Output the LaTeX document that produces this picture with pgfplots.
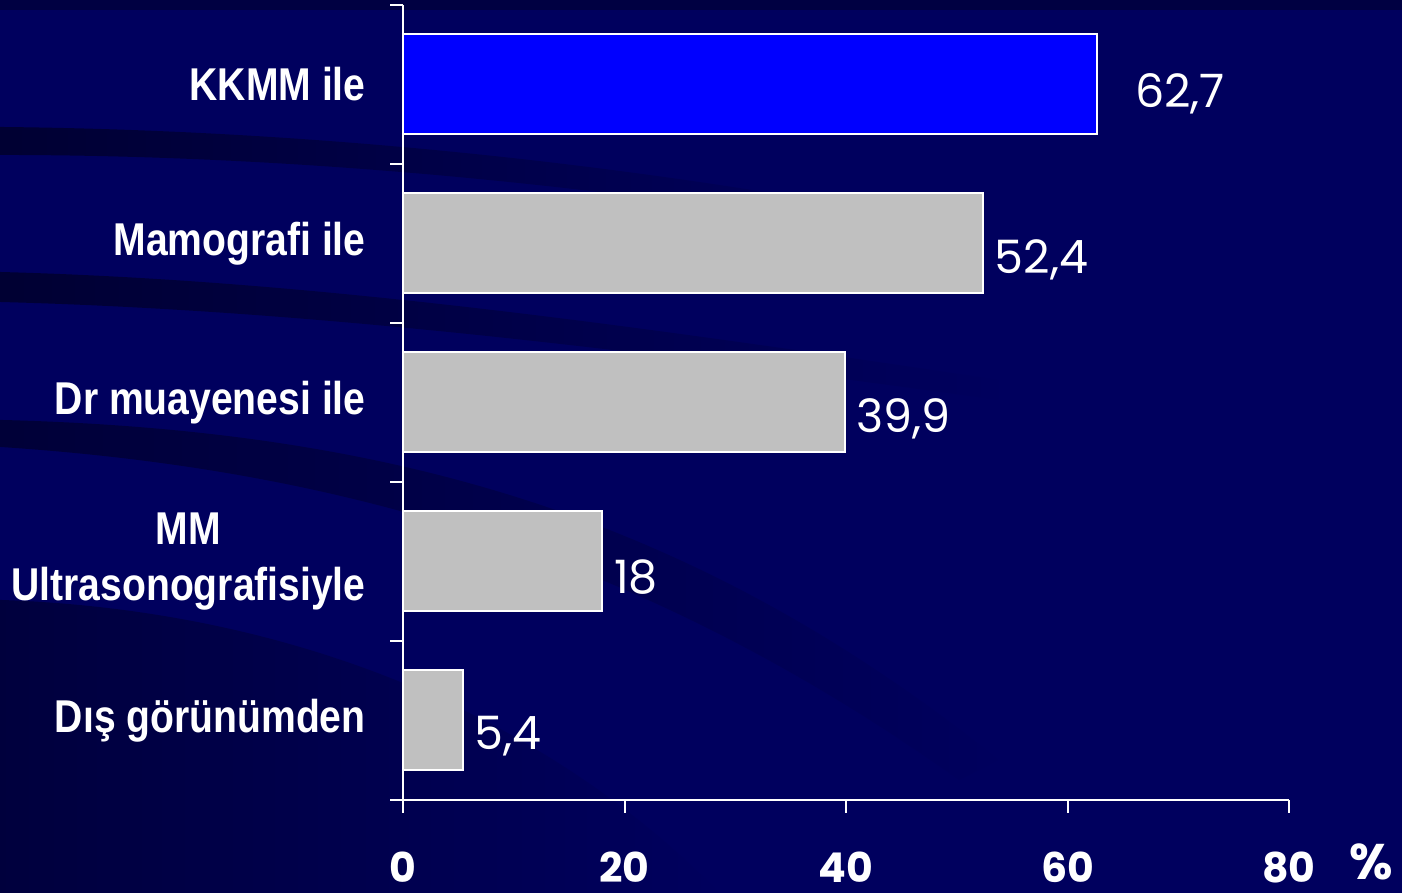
\documentclass[border=0pt]{standalone}
\usepackage{fontspec}
\usepackage{pgfplots}
\pgfplotsset{compat=1.18}
\usetikzlibrary{fadings}
\setmainfont{Liberation Sans}
\newfontfamily\catfont[FakeStretch=0.85]{Liberation Sans}
\newfontfamily\valfont{Poppins}
\definecolor{bgblue}{RGB}{0,0,94}
\definecolor{darkblue}{RGB}{0,0,40}
\definecolor{barsilver}{RGB}{192,192,192}
\definecolor{barblue}{RGB}{0,0,255}
\begin{document}
\begin{tikzpicture}
\fill[bgblue] (0,0) rectangle (701pt,446.5pt);
\path[use as bounding box] (0,0) rectangle (701pt,446.5pt);
\begin{scope}[x=0.5pt,y=-0.5pt,shift={(0pt,446.5pt)}]
  \fill[darkblue,opacity=0.5] (0,0) rectangle (1402,10);
  \fill[darkblue,opacity=0.8,path fading=east] (0,127) .. controls (300,130) and (600,160) .. (900,215) -- (900,235) .. controls (600,185) and (300,155) .. (0,155) -- cycle;
  \fill[darkblue,opacity=0.8,path fading=east] (0,272) .. controls (300,280) and (600,320) .. (1000,380) -- (1000,400) .. controls (600,345) and (300,310) .. (0,302) -- cycle;
  \fill[darkblue,opacity=0.7,path fading=east] (0,420) .. controls (400,430) and (700,520) .. (1000,760) -- (960,780) .. controls (650,560) and (350,470) .. (0,447) -- cycle;
  \fill[darkblue,opacity=0.6,path fading=east] (0,600) .. controls (300,610) and (550,720) .. (720,893) -- (0,893) -- cycle;
\end{scope}
\begin{axis}[
  at={(201.5pt,46.5pt)}, anchor=south west,
  scale only axis, width=443pt, height=397.5pt,
  clip=false,
  xmin=0, xmax=80, ymin=0.5, ymax=5.5,
  axis lines*=left,
  axis line style={white, line width=1pt},
  tick align=outside,
  major tick length=6.5pt,
  every tick/.style={white, line width=1pt},
  xtick={0,20,40,60,80},
  xticklabel style={font=\valfont\bfseries\fontsize{20.5}{22}\selectfont, text=white, inner sep=0pt, yshift=-19.5pt},
  /pgf/number format/assume math mode=true,
  /pgf/number format/use comma,
  /pgf/number format/fixed,
  ytick={0.5,1.5,2.5,3.5,4.5,5.5},
  yticklabels={},
  extra y ticks={1,2,3,4,5},
  extra y tick labels={Dış görünümden,{MM\\Ultrasonografisiyle},Dr muayenesi ile,Mamografi ile,KKMM ile},
  extra y tick style={major tick length=0pt,
    yticklabel style={font=\catfont\bfseries\fontsize{23}{28}\selectfont, text=white, align=center, anchor=east, inner sep=0pt, xshift=-18.5pt}},
  nodes near coords,
  point meta=x,
  every node near coord/.append style={font=\valfont\fontsize{23}{28}\selectfont, text=white, anchor=west},
]
\addplot[xbar, bar shift=0pt, bar width=50pt, fill=barsilver, draw=white, line width=1pt,
  every node near coord/.append style={xshift=2pt, yshift=-8pt}]
  coordinates {(5.4,1) (18,2) (39.9,3) (52.4,4)};
\addplot[xbar, bar shift=0pt, bar width=50pt, fill=barblue, draw=white, line width=1pt,
  every node near coord/.append style={xshift=15pt, yshift=-4.5pt}]
  coordinates {(62.7,5)};
\node[font=\valfont\bfseries\fontsize{25}{26}\selectfont, text=white, inner sep=0pt] at (rel axis cs:1,0) [xshift=41pt, yshift=-31pt] {\%};
\end{axis}
\end{tikzpicture}
\end{document}
